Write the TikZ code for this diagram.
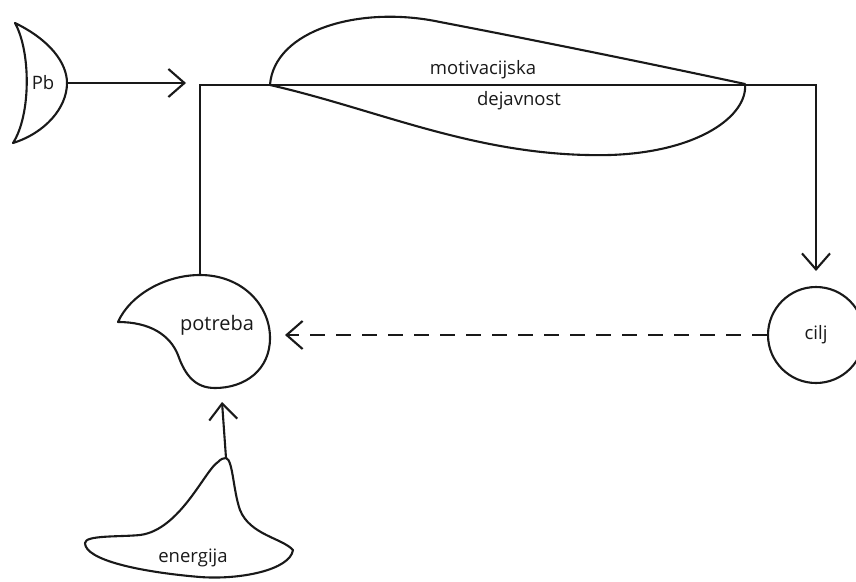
\documentclass[tikz,border=0pt]{standalone}
\usepackage{fontspec}
\setmainfont{Open Sans}
\newfontface\lblfont{Open Sans}
\usetikzlibrary{arrows.meta}
\begin{document}
\begin{tikzpicture}[x=1pt,y=-1pt,
  shape line/.style={line width=2.1pt, line join=round, draw=black!90},
  conn/.style={line width=2.1pt, draw=black!90, -{Straight Barb[length=16pt,width=28pt,line width=2.1pt]}},
  dashconn/.style={conn, dash pattern=on 15pt off 11pt},
  lbl/.style={font=\lblfont\fontsize{18.5}{20}\selectfont, inner sep=0pt, text=black!90}]
\useasboundingbox (0,0) rectangle (856,581);
% Pb crescent
\draw[shape line] (15,23) .. controls (50,40) and (67,63) .. (67,83)
  .. controls (67,108) and (45,133) .. (13,143)
  .. controls (31,115) and (31,52) .. (15,23) -- cycle;
\node[lbl] (pb) at (43,83) {Pb};
\coordinate (pbR) at (67,83);
\coordinate (pbEnd) at (186,83);
\draw[conn] (pbR) -- (pbEnd);
% lens
\draw[shape line] (270,85) .. controls (274,30) and (360,5) .. (440,22)
  .. controls (560,45) and (680,70) .. (745,84)
  .. controls (748,115) and (700,152) .. (610,155)
  .. controls (480,158) and (380,110) .. (270,85) -- cycle;
\node[lbl] (mot) at (483,70) {motivacijska};
\node[lbl] (dej) at (519,101) {dejavnost};
% potreba
\draw[shape line] (118,322) .. controls (130,295) and (165,275) .. (200,275)
  .. controls (242,275) and (270,305) .. (270,338)
  .. controls (270,370) and (245,388) .. (215,388)
  .. controls (195,388) and (185,375) .. (178,355)
  .. controls (170,335) and (150,322) .. (118,322) -- cycle;
\node[lbl, font=\lblfont\fontsize{20}{22}\selectfont] (potreba) at (217,325) {potreba};
\coordinate (ptop) at (200,275);
% cilj
\node[draw=black!90, circle, line width=2.1pt, minimum size=96pt, inner sep=0pt, lbl] (cilj) at (816,335) {cilj};
% main loop
\coordinate (c1) at (200,85);
\coordinate (c2) at (816,85);
\coordinate (ciljIn) at (816,271);
\draw[conn] (ptop) -- (c1) -- (c2) -- (ciljIn);
% dashed
\coordinate (dashEnd) at (285,335);
\draw[dashconn] (cilj.west) -- (dashEnd);
% energija
\draw[shape line] (226,458) .. controls (233,460) and (233,490) .. (240,510)
  .. controls (250,535) and (282,538) .. (293,550)
  .. controls (290,570) and (240,580) .. (200,577)
  .. controls (140,572) and (85,560) .. (85,543)
  .. controls (85,535) and (120,537) .. (140,535)
  .. controls (180,530) and (205,470) .. (218,462)
  .. controls (221,459) and (223,458) .. (226,458) -- cycle;
\node[lbl] (energija) at (193,558) {energija};
\coordinate (epeak) at (226,458);
\coordinate (eEnd) at (222,402);
\draw[conn] (epeak) -- (eEnd);
\end{tikzpicture}
\end{document}
